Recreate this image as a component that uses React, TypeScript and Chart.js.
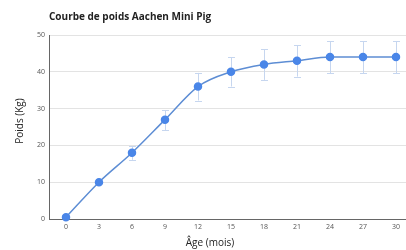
import React, { useEffect, useRef } from "react";
import { Chart, registerables } from "chart.js";

Chart.register(...registerables);

const ages = [0, 3, 6, 9, 12, 15, 18, 21, 24, 27, 30];
const weights = [0.5, 10, 18, 27, 36, 40, 42, 43, 44, 44, 44];
const errLow = [0.5, 10, 16.1, 24.2, 32.2, 36, 37.8, 38.7, 39.6, 39.6, 39.6];
const errHigh = [0.5, 10, 19.8, 29.5, 39.7, 44, 46.1, 47.2, 48.3, 48.3, 48.3];
const yTicks = [0, 10, 20, 30, 40, 50];
const titleText = "Courbe de poids Aachen Mini Pig";
const xTitle = "Âge (mois)";
const yTitle = "Poids (Kg)";

const FONT = "'Open Sans', 'Noto Sans', sans-serif";

const errorBars = {
  id: "errorBars",
  beforeDatasetsDraw(chart: any) {
    const ctx = chart.ctx;
    const xs = chart.scales.x;
    const ys = chart.scales.y;
    ctx.save();
    ctx.strokeStyle = "#c6d6ef";
    ctx.lineWidth = 1;
    for (let i = 0; i < ages.length; i++) {
      if (errHigh[i] - errLow[i] < 0.5) continue;
      const x = Math.round(xs.getPixelForValue(ages[i])) + 0.5;
      const y1 = ys.getPixelForValue(errLow[i]);
      const y2 = ys.getPixelForValue(errHigh[i]);
      ctx.beginPath();
      ctx.moveTo(x, y1);
      ctx.lineTo(x, y2);
      ctx.moveTo(x - 3.5, Math.round(y1) + 0.5);
      ctx.lineTo(x + 3.5, Math.round(y1) + 0.5);
      ctx.moveTo(x - 3.5, Math.round(y2) + 0.5);
      ctx.lineTo(x + 3.5, Math.round(y2) + 0.5);
      ctx.stroke();
    }
    ctx.restore();
  },
};

const axisTitles = {
  id: "axisTitles",
  afterDraw(chart: any) {
    const ctx = chart.ctx;
    ctx.save();
    ctx.fillStyle = "#222";
    ctx.font = `10px ${FONT}`;
    ctx.textAlign = "center";
    ctx.textBaseline = "middle";
    ctx.fillText(xTitle, 210, 243);
    ctx.translate(20, 121);
    ctx.rotate(-Math.PI / 2);
    ctx.fillText(yTitle, 0, 0);
    ctx.restore();
  },
};

export default function App() {
  const ref = useRef<HTMLCanvasElement>(null);
  useEffect(() => {
    document.body.style.margin = "0";
    const chart = new Chart(ref.current!, {
      type: "line",
      data: {
        datasets: [
          {
            data: ages.map((a, i) => ({ x: a, y: weights[i] })),
            borderColor: "#5d8dd4",
            borderWidth: 1.5,
            backgroundColor: "#4a86e8",
            pointBackgroundColor: "#4a86e8",
            pointBorderColor: "#4a86e8",
            pointRadius: 3.5,
            cubicInterpolationMode: "monotone",
            clip: false as any,
          },
        ],
      },
      options: {
        animation: false,
        responsive: false,
        layout: { autoPadding: false, padding: { top: 1, left: 0, right: 0, bottom: 0 } },
        plugins: {
          legend: { display: false },
          tooltip: { enabled: false },
          title: {
            display: true,
            text: titleText,
            align: "start",
            fullSize: false,
            color: "#222",
            font: { family: FONT, size: 10, weight: "bold" },
            padding: { top: 10, bottom: 12 },
          },
        },
        scales: {
          x: {
            type: "linear",
            min: -1.545,
            max: 30.91,
            afterBuildTicks(scale: any) {
              scale.ticks = ages.map((v) => ({ value: v }));
            },
            afterFit(scale: any) {
              scale.height = 31;
              scale.paddingLeft = 0;
              scale.paddingRight = 0;
            },
            grid: { display: false, drawTicks: false },
            border: { display: true, color: "#666", width: 1 },
            ticks: {
              color: "#555",
              font: { family: FONT, size: 7 },
              padding: 4,
              maxRotation: 0,
              autoSkip: false,
            },
          },
          y: {
            min: 0,
            max: 50,
            afterBuildTicks(scale: any) {
              scale.ticks = yTicks.map((v) => ({ value: v }));
            },
            afterFit(scale: any) {
              scale.width = 49;
              scale.paddingTop = 0;
              scale.paddingBottom = 0;
            },
            grid: { color: "#e3e3e3", drawTicks: false },
            border: { display: true, color: "#666", width: 1 },
            ticks: {
              color: "#555",
              font: { family: FONT, size: 7 },
              padding: 4,
            },
          },
        },
      },
      plugins: [errorBars, axisTitles],
    });
    return () => chart.destroy();
  }, []);
  return <canvas ref={ref} width={406} height={250} style={{ display: "block" }} />;
}
